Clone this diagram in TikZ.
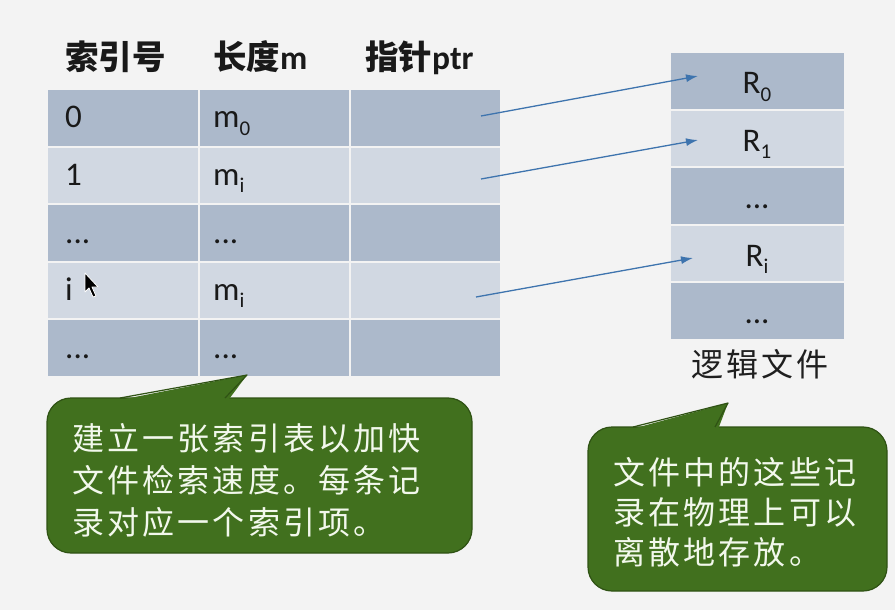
\documentclass[tikz,border=0pt]{standalone}
\usepackage{fontspec}
\setmainfont{Carlito}
\newfontfamily\cjk{Noto Sans CJK SC}
\newfontfamily\cjkcall[LetterSpace=10]{Noto Sans CJK SC}
\usetikzlibrary{arrows.meta}
\definecolor{bgc}{HTML}{F3F3F3}
\definecolor{celldark}{HTML}{ACB9CB}
\definecolor{celllight}{HTML}{D1D8E2}
\definecolor{arrowblue}{HTML}{3E74AE}
\definecolor{callgreen}{HTML}{41701E}
\definecolor{callborder}{HTML}{2F5214}
\definecolor{calltextc}{HTML}{F2F8EC}
\newcommand\mysub[1]{\raisebox{-0.22em}{\fontsize{21}{21}\selectfont #1}}
\tikzset{
  cellbox/.style={draw=none, inner sep=0pt, anchor=north west, minimum height=55.5pt},
  celltext/.style={inner sep=0pt, font=\fontsize{33}{33}\selectfont, text=black!90},
  headtext/.style={inner sep=0pt, anchor=base west, font=\fontsize{33.5}{33.5}\selectfont\bfseries, text=black!90},
  ptrarrow/.style={draw=arrowblue, line width=1.3pt, -{Latex[length=12pt,width=8pt]}},
  callshape/.style={fill=callgreen, draw=callborder, line width=1.2pt},
  calltext/.style={inner sep=0pt, anchor=base west, text=calltextc, font=\cjkcall\fontsize{32}{32}\selectfont},
}
\begin{document}
\begin{tikzpicture}[x=1pt,y=-1pt]
\fill[bgc] (0,0) rectangle (895,610);
\useasboundingbox (0,0) rectangle (895,610);
% headers
\node[headtext] (h1) at (65,70) {\cjk 索引号};
\node[headtext] (h2) at (213,70) {{\cjk 长度}m};
\node[headtext] (h3) at (365,70) {{\cjk 指针}ptr};
% left table
\foreach \r/\col in {0/celldark,1/celllight,2/celldark,3/celllight,4/celldark}{
  \node[cellbox, fill=\col, minimum width=150pt] (a\r) at (48,90+57.5*\r) {};
  \node[cellbox, fill=\col, minimum width=149pt] (b\r) at (200,90+57.5*\r) {};
  \node[cellbox, fill=\col, minimum width=149pt] (c\r) at (351,90+57.5*\r) {};
}
\node[celltext, anchor=base west] (ta0) at (65,128) {0};
\node[celltext, anchor=base west] (ta1) at (65,185) {1};
\node[celltext, anchor=base west] (ta2) at (65,243) {...};
\node[celltext, anchor=base west] (ta3) at (65,300) {i};
\node[celltext, anchor=base west] (ta4) at (65,358) {...};
\node[celltext, anchor=base west] (tb0) at (213,128) {m\mysub{0}};
\node[celltext, anchor=base west] (tb1) at (213,185) {m\mysub{i}};
\node[celltext, anchor=base west] (tb2) at (213,243) {...};
\node[celltext, anchor=base west] (tb3) at (213,300) {m\mysub{i}};
\node[celltext, anchor=base west] (tb4) at (213,358) {...};
% right table
\foreach \r/\col in {0/celldark,1/celllight,2/celldark,3/celllight,4/celldark}{
  \node[cellbox, fill=\col, minimum width=173pt] (r\r) at (671,53+57.5*\r) {};
}
\node[celltext, anchor=base] (tr0) at (757,94) {R\mysub{0}};
\node[celltext, anchor=base] (tr1) at (757,151) {R\mysub{1}};
\node[celltext, anchor=base] (tr2) at (757,208) {...};
\node[celltext, anchor=base] (tr3) at (757,266) {R\mysub{i}};
\node[celltext, anchor=base] (tr4) at (757,323) {...};
\node[inner sep=0pt, anchor=base, font=\cjkcall\fontsize{32}{32}\selectfont, text=black!88] (lf) at (760,376) {逻辑文件};
% pointers
\coordinate (p0) at (481,116);
\coordinate (p1) at (481,179);
\coordinate (p2) at (476,297);
\coordinate (q0) at (698,76);
\coordinate (q1) at (698,140);
\coordinate (q2) at (693,258);
\draw[ptrarrow] (p0) -- (q0);
\draw[ptrarrow] (p1) -- (q1);
\draw[ptrarrow] (p2) -- (q2);
% cursor
\draw[fill=black, draw=white, line width=0.8pt, line join=round] (85,273) -- (85,292) -- (89,288) -- (93,297) -- (96,296) -- (92,287) -- (98,287) -- cycle;
% callout 1
\draw[callshape, rounded corners=24pt] (47,398) rectangle (472,553);
\fill[callgreen] (117,400.5) -- (247,375) -- (228,400.5) -- cycle;
\draw[callborder, line width=1.2pt, line join=round] (120,398) -- (247,375) -- (225,398);
\node[calltext] (l1a) at (72,450) {建立一张索引表以加快};
\node[calltext] (l1b) at (72,492) {文件检索速度。每条记};
\node[calltext] (l1c) at (72,534) {录对应一个索引项。};
% callout 2
\draw[callshape, rounded corners=24pt] (588,427) rectangle (887,591);
\fill[callgreen] (630,429.5) -- (728,403) -- (718,429.5) -- cycle;
\draw[callborder, line width=1.2pt, line join=round] (633,427) -- (728,403) -- (715,427);
\node[calltext] (l2a) at (613,484) {文件中的这些记};
\node[calltext] (l2b) at (613,524) {录在物理上可以};
\node[calltext] (l2c) at (613,564) {离散地存放。};
\end{tikzpicture}
\end{document}
